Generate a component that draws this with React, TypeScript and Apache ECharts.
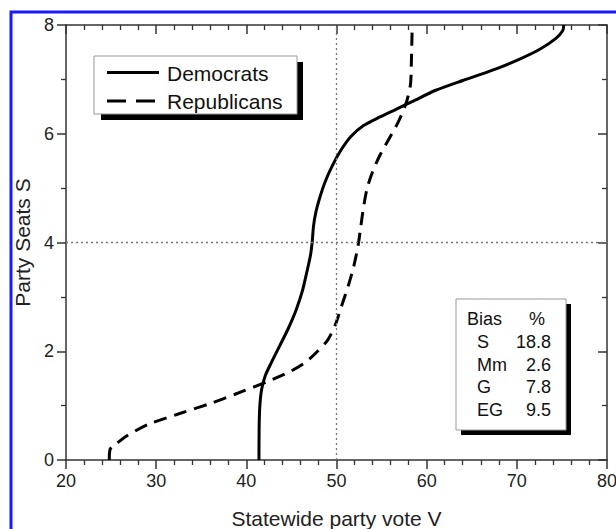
import React, { useEffect, useRef } from "react";
import * as echarts from "echarts";

const demV = [41.4, 41.42, 41.5, 41.7, 42.1, 42.8, 43.7, 44.6, 45.5, 46.2, 46.7, 47.1, 47.3, 47.45, 47.7, 48.1, 48.7, 49.5, 50.5, 51.6, 53.0, 54.7, 56.6, 58.5, 61.0, 64.0, 67.0, 70.0, 72.5, 74.3, 75.1, 75.2];
const demS = [0, 0.6, 1.0, 1.3, 1.55, 1.8, 2.1, 2.4, 2.75, 3.1, 3.45, 3.75, 4.0, 4.3, 4.55, 4.8, 5.1, 5.4, 5.7, 5.95, 6.15, 6.3, 6.45, 6.6, 6.8, 6.98, 7.15, 7.35, 7.55, 7.75, 7.9, 8.0];
const repV = [24.8, 24.9, 25.6, 26.8, 29.2, 32.7, 36.2, 39.7, 42.3, 44.9, 46.6, 47.9, 49.0, 49.9, 50.6, 51.3, 51.9, 52.4, 52.7, 53.0, 53.4, 54.0, 54.8, 55.8, 56.8, 57.7, 58.2, 58.3, 58.4];
const repS = [0, 0.2, 0.3, 0.45, 0.66, 0.86, 1.05, 1.27, 1.44, 1.63, 1.8, 2.0, 2.2, 2.5, 2.85, 3.2, 3.55, 3.95, 4.3, 4.65, 5.0, 5.3, 5.6, 5.9, 6.2, 6.55, 6.9, 7.3, 8.0];

const xTicks = { min: 20, max: 80, interval: 10 };
const yTicks = { min: 0, max: 8, interval: 2 };
const legendNames = ["Democrats", "Republicans"];
const biasLabels = ["S", "Mm", "G", "EG"];
const biasValues = ["18.8", "2.6", "7.8", "9.5"];

const FONT = "'Liberation Sans', Arial, Helvetica, sans-serif";
const AX = "#333";

export default function App() {
  const ref = useRef<HTMLDivElement>(null);
  useEffect(() => {
    if (!ref.current) return;
    const chart = echarts.init(ref.current, null, { renderer: "svg" });
    const axisCommon = {
      type: "value" as const,
      axisLine: { show: true, onZero: false, lineStyle: { color: AX, width: 1.5 } },
      splitLine: { show: false },
    };
    const biasRows: any[] = [];
    biasLabels.forEach((l, i) => {
      const y = 342 + i * 22.7;
      biasRows.push({ type: "text", x: 477, y, style: { text: l, font: `18px ${FONT}`, fill: "#111", verticalAlign: "middle", align: "left" } });
      biasRows.push({ type: "text", x: 551, y, style: { text: biasValues[i], font: `18px ${FONT}`, fill: "#111", verticalAlign: "middle", align: "right" } });
    });
    chart.setOption({
      animation: false,
      backgroundColor: "#fff",
      grid: { left: 66, top: 25, width: 541, height: 435, containLabel: false, outerBoundsMode: "none" },
      xAxis: [
        {
          ...axisCommon,
          position: "bottom",
          min: xTicks.min,
          max: xTicks.max,
          interval: xTicks.interval,
          axisTick: { show: true, inside: false, length: 9, lineStyle: { color: AX, width: 1.5 } },
          minorTick: { show: true, splitNumber: 5, length: 5, lineStyle: { color: AX, width: 1.3 } },
          axisLabel: { fontSize: 18, color: "#222", fontFamily: FONT, margin: 12 },
          name: "Statewide party vote V",
          nameLocation: "middle",
          nameGap: 48,
          nameTextStyle: { fontSize: 21, color: "#222", fontFamily: FONT },
        },
        {
          ...axisCommon,
          position: "top",
          min: xTicks.min,
          max: xTicks.max,
          interval: xTicks.interval,
          axisTick: { show: true, inside: true, length: 9, lineStyle: { color: AX, width: 1.5 } },
          minorTick: { show: true, splitNumber: 5, length: 5, lineStyle: { color: AX, width: 1.3 } },
          axisLabel: { show: false },
        },
      ],
      yAxis: [
        {
          ...axisCommon,
          position: "left",
          min: yTicks.min,
          max: yTicks.max,
          interval: yTicks.interval,
          axisTick: { show: true, inside: false, length: 9, lineStyle: { color: AX, width: 1.5 } },
          minorTick: { show: true, splitNumber: 2, length: 5, lineStyle: { color: AX, width: 1.3 } },
          axisLabel: { fontSize: 18, color: "#222", fontFamily: FONT, margin: 12 },
          name: "Party Seats S",
          nameLocation: "middle",
          nameGap: 28,
          nameRotate: 90,
          nameTextStyle: { fontSize: 21, color: "#222", fontFamily: FONT },
        },
        {
          ...axisCommon,
          position: "right",
          min: yTicks.min,
          max: yTicks.max,
          interval: yTicks.interval,
          axisTick: { show: true, inside: true, length: 9, lineStyle: { color: AX, width: 1.5 } },
          minorTick: { show: true, splitNumber: 2, length: 5, lineStyle: { color: AX, width: 1.3 } },
          axisLabel: { show: false },
        },
      ],
      series: [
        {
          name: legendNames[0],
          type: "line",
          xAxisIndex: 0,
          yAxisIndex: 0,
          data: demV.map((v, i) => [v, demS[i]]),
          showSymbol: false,
          smooth: 0.25,
          lineStyle: { color: "#000", width: 3 },
          markLine: {
            silent: true,
            symbol: "none",
            label: { show: false },
            lineStyle: { color: "#777", width: 1.3, type: [2, 3] },
            data: [{ xAxis: 50 }, { yAxis: 4 }],
          },
          z: 3,
        },
        {
          name: legendNames[1],
          type: "line",
          xAxisIndex: 0,
          yAxisIndex: 0,
          data: repV.map((v, i) => [v, repS[i]]),
          showSymbol: false,
          smooth: 0.25,
          lineStyle: { color: "#000", width: 3, type: [13, 8] },
          z: 3,
        },
      ],
      graphic: [
        { type: "rect", shape: { x: 11, y: 12, width: 700, height: 600 }, style: { fill: "none", stroke: "#1a1aff", lineWidth: 3 }, silent: true },
        { type: "rect", shape: { x: 101, y: 62, width: 202, height: 58 }, style: { fill: "#000" } },
        { type: "rect", shape: { x: 94, y: 56, width: 203, height: 58 }, style: { fill: "#fff", stroke: "#999", lineWidth: 1 } },
        { type: "line", shape: { x1: 107, y1: 72.5, x2: 159, y2: 72.5 }, style: { stroke: "#000", lineWidth: 3 } },
        { type: "line", shape: { x1: 107, y1: 101, x2: 159, y2: 101 }, style: { stroke: "#000", lineWidth: 3, lineDash: [19, 10] } },
        { type: "text", x: 167, y: 73, style: { text: legendNames[0], font: `21px ${FONT}`, fill: "#111", verticalAlign: "middle" } },
        { type: "text", x: 167, y: 101, style: { text: legendNames[1], font: `21px ${FONT}`, fill: "#111", verticalAlign: "middle" } },
        { type: "rect", shape: { x: 461, y: 304, width: 110, height: 131 }, style: { fill: "#000" } },
        { type: "rect", shape: { x: 456, y: 299, width: 110, height: 131 }, style: { fill: "#fff", stroke: "#999", lineWidth: 1 } },
        { type: "text", x: 467, y: 319, style: { text: "Bias", font: `18px ${FONT}`, fill: "#111", verticalAlign: "middle" } },
        { type: "text", x: 537, y: 319, style: { text: "%", font: `18px ${FONT}`, fill: "#111", verticalAlign: "middle", align: "center" } },
        ...biasRows,
      ],
    });
    return () => chart.dispose();
  }, []);
  return <div ref={ref} style={{ width: 616, height: 529, position: "absolute", left: 0, top: 0 }} />;
}
